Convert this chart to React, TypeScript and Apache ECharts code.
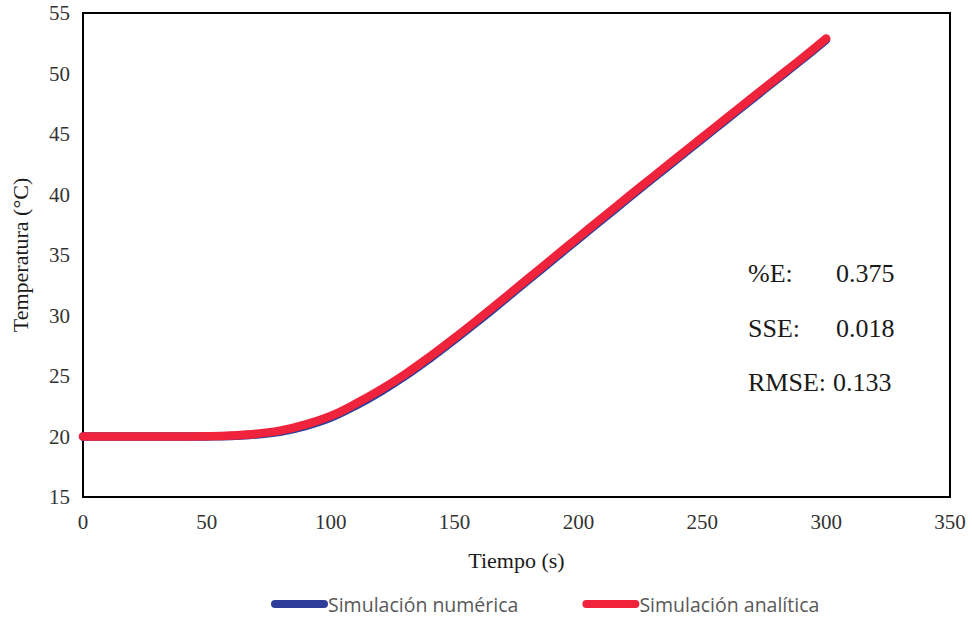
import React, { useEffect, useRef } from "react";
import * as echarts from "echarts";

// Time (s)
const tiempo = [0, 10, 20, 30, 40, 50, 60, 70, 80, 90, 100, 110, 120, 130, 140, 150, 160, 170, 180, 190, 200, 210, 220, 230, 240, 250, 260, 270, 280, 290, 300];
// Temperature (°C) – analytical simulation
const analitica = [20.0, 20.0, 20.0, 20.0, 20.005, 20.02, 20.08, 20.22, 20.5, 21.0, 21.7, 22.7, 23.85, 25.15, 26.6, 28.15, 29.77, 31.43, 33.11, 34.79, 36.47, 38.14, 39.8, 41.45, 43.09, 44.72, 46.35, 47.98, 49.6, 51.22, 52.9];
// Temperature (°C) – numerical simulation
const numerica = [20.0, 20.0, 20.0, 20.0, 20.0, 20.01, 20.05, 20.16, 20.41, 20.88, 21.56, 22.55, 23.7, 25.0, 26.45, 28.0, 29.62, 31.28, 32.97, 34.65, 36.33, 38.0, 39.67, 41.32, 42.96, 44.6, 46.23, 47.86, 49.49, 51.11, 52.8];

const statNames = ["%E:", "SSE:", "RMSE:"];
const statValues = ["0.375", "0.018", "0.133"];

const serif = "'Liberation Serif', 'Times New Roman', serif";
const capsule = "path://M4,0 L53,0 A4,4 0 0 1 53,8 L4,8 A4,4 0 0 1 4,0 Z";

export default function App() {
  const ref = useRef<HTMLDivElement>(null);
  useEffect(() => {
    if (!ref.current) return;
    const chart = echarts.init(ref.current, undefined, { renderer: "svg" });
    const statTexts: any[] = [];
    const ys = [274, 329, 383];
    statNames.forEach((n, i) => {
      statTexts.push({
        type: "text",
        left: 748,
        top: ys[i] - 14,
        style: { text: n, font: `26px ${serif}`, fill: "#1a1a1a" },
      });
      statTexts.push({
        type: "text",
        left: i === 2 ? 833 : 836,
        top: ys[i] - 14,
        style: { text: statValues[i], font: `26px ${serif}`, fill: "#1a1a1a" },
      });
    });
    chart.setOption({
      animation: false,
      grid: {
        left: 83,
        right: 22,
        top: 13,
        bottom: 122,
        show: true,
        borderColor: "#000",
        borderWidth: 2,
        backgroundColor: "transparent",
      },
      legend: {
        top: 589,
        left: 266,
        itemWidth: 57,
        itemHeight: 8,
        itemGap: 64,
        icon: capsule,
        textStyle: {
          fontFamily: "'Open Sans', sans-serif",
          fontSize: 19.5,
          color: "#595959",
          padding: [0, 0, 0, -5],
        },
        data: ["Simulación numérica", "Simulación analítica"],
      },
      xAxis: {
        type: "value",
        min: 0,
        max: 350,
        interval: 50,
        name: "Tiempo (s)",
        nameLocation: "middle",
        nameGap: 52,
        nameTextStyle: { fontFamily: serif, fontSize: 22, color: "#1a1a1a" },
        axisLine: { show: true, lineStyle: { color: "#000", width: 2 } },
        axisTick: { show: false },
        splitLine: { show: false },
        axisLabel: { fontFamily: serif, fontSize: 21, color: "#333", margin: 14 },
      },
      yAxis: {
        type: "value",
        min: 15,
        max: 55,
        interval: 5,
        name: "Temperatura (°C)",
        nameLocation: "middle",
        nameGap: 52,
        nameTextStyle: { fontFamily: serif, fontSize: 22, color: "#1a1a1a" },
        axisLine: { show: true, lineStyle: { color: "#000", width: 2 } },
        axisTick: { show: false },
        splitLine: { show: false },
        axisLabel: { fontFamily: serif, fontSize: 21, color: "#333", margin: 13 },
      },
      series: [
        {
          name: "Simulación numérica",
          type: "line",
          data: tiempo.map((t, i) => [t, numerica[i]]),
          showSymbol: false,
          smooth: 0.4,
          color: "#2e3d98",
          lineStyle: { width: 8.5, color: "#2e3d98", cap: "round", join: "round" },
        },
        {
          name: "Simulación analítica",
          type: "line",
          data: tiempo.map((t, i) => [t, analitica[i]]),
          showSymbol: false,
          smooth: 0.4,
          color: "#ef233c",
          lineStyle: { width: 8.5, color: "#ef233c", cap: "round", join: "round" },
        },
      ],
      graphic: statTexts,
    });
    return () => chart.dispose();
  }, []);
  return (
    <div
      ref={ref}
      style={{ position: "fixed", left: 0, top: 0, width: 972, height: 619, background: "#fff" }}
    />
  );
}
